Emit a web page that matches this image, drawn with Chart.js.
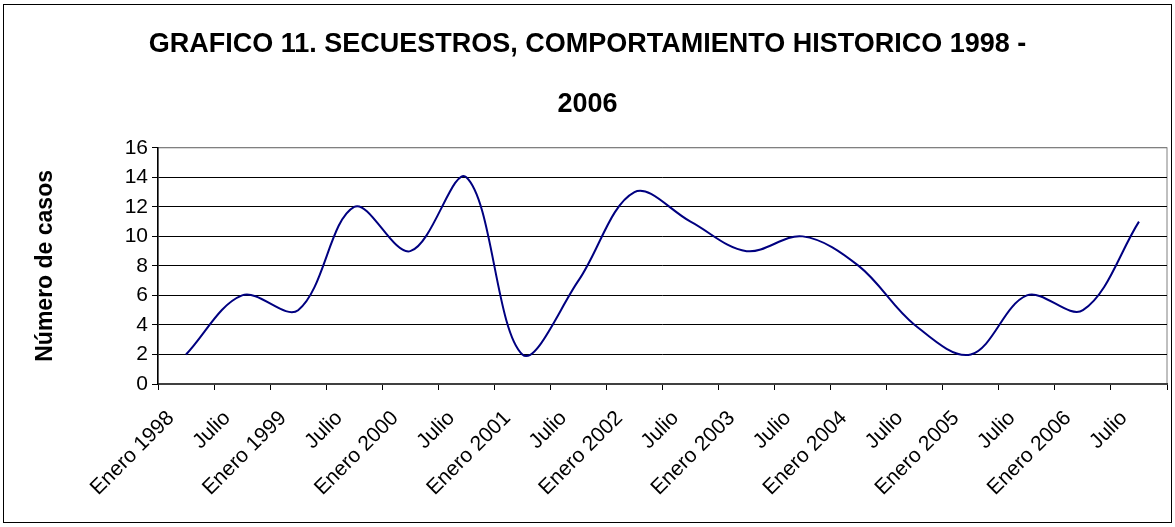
<!DOCTYPE html>
<html>
<head>
    <meta charset="utf-8">
    <title>Secuestros 1998 - 2006</title>
    <script src="https://cdn.jsdelivr.net/npm/chart.js"></script>
    <style>
        html, body { margin: 0; padding: 0; background: #fff; }
    </style>
</head>
<body>
    <canvas id="secuestrosChart" width="1175" height="527"></canvas>
    <script>
        // periodos semestrales del eje X
        var periodos = ['Enero 1998', 'Julio', 'Enero 1999', 'Julio', 'Enero 2000', 'Julio',
                        'Enero 2001', 'Julio', 'Enero 2002', 'Julio', 'Enero 2003', 'Julio',
                        'Enero 2004', 'Julio', 'Enero 2005', 'Julio', 'Enero 2006', 'Julio'];
        // numero de casos por periodo
        var casos = [2, 6, 5, 12, 9, 14, 2, 7, 13, 11, 9, 10, 8, 4, 2, 6, 5, 11];
        // marcas del eje Y
        var marcasY = [0, 2, 4, 6, 8, 10, 12, 14, 16];
        var titulo = ['GRAFICO 11. SECUESTROS, COMPORTAMIENTO HISTORICO 1998 -', '2006'];
        var tituloEjeY = 'Número de casos';

        var fuente = "'Liberation Sans', Arial, sans-serif";
        Chart.defaults.font.family = fuente;
        Chart.defaults.color = '#000';

        // marco exterior y borde del area de trazado
        var marco = {
            id: 'marco',
            beforeDraw: function(chart) {
                var ctx = chart.ctx, a = chart.chartArea;
                ctx.save();
                ctx.fillStyle = '#fff';
                ctx.fillRect(0, 0, chart.width, chart.height);
                ctx.strokeStyle = '#000';
                ctx.lineWidth = 1;
                ctx.strokeRect(3.5, 4.5, chart.width - 7, chart.height - 9);
                ctx.strokeStyle = '#808080';
                ctx.strokeRect(a.left, a.top, a.right - a.left, a.bottom - a.top);
                ctx.restore();
            }
        };

        var ctx = document.getElementById('secuestrosChart').getContext('2d');
        var secuestrosChart = new Chart(ctx, {
            type: 'line',
            data: {
                labels: periodos,
                datasets: [{
                    label: 'Secuestros',
                    data: casos,
                    borderColor: '#000080',
                    borderWidth: 2,
                    pointRadius: 0,
                    tension: 0.35,
                    fill: false
                }]
            },
            options: {
                responsive: false,
                animation: false,
                layout: { padding: { top: 5, right: 8, bottom: 0, left: 8 } },
                plugins: {
                    legend: { display: false },
                    tooltip: { enabled: false },
                    title: {
                        display: true,
                        text: titulo,
                        color: '#000',
                        font: { size: 27, weight: 'bold', lineHeight: 2.2 },
                        padding: { top: 10, bottom: 14 }
                    }
                },
                scales: {
                    x: {
                        type: 'category',
                        offset: true,
                        grid: {
                            offset: true,
                            drawOnChartArea: false,
                            tickLength: 6,
                            tickColor: '#000'
                        },
                        border: { color: '#404040', width: 2 },
                        ticks: {
                            autoSkip: false,
                            minRotation: 45,
                            maxRotation: 45,
                            padding: 16,
                            labelOffset: -15,
                            color: '#000',
                            font: { size: 21 }
                        },
                        afterFit: function(scale) { scale.height = 143; }
                    },
                    y: {
                        min: 0,
                        max: 16,
                        afterBuildTicks: function(scale) {
                            scale.ticks = marcasY.map(function(v) { return { value: v }; });
                        },
                        grid: {
                            color: function(c) {
                                return c.tick && c.tick.value === 16 ? '#808080' : '#000';
                            },
                            lineWidth: 1,
                            tickLength: 6,
                            tickColor: '#000'
                        },
                        border: { color: '#000', width: 1.5 },
                        ticks: {
                            padding: 4,
                            color: '#000',
                            font: { size: 21 }
                        },
                        title: {
                            display: true,
                            text: tituloEjeY,
                            color: '#000',
                            font: { size: 23, weight: 'bold' },
                            padding: { top: 24, bottom: 0 }
                        },
                        afterFit: function(scale) { scale.width = 150; }
                    }
                }
            },
            plugins: [marco]
        });
    </script>
</body>
</html>
